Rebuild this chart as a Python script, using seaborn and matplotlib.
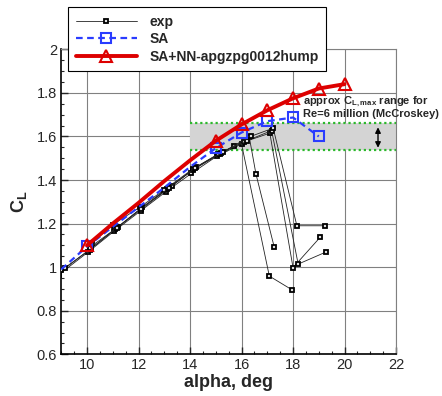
import numpy as np
import pandas as pd
import matplotlib
matplotlib.use("Agg")
import matplotlib.pyplot as plt
from matplotlib.lines import Line2D
from matplotlib.ticker import MultipleLocator
import seaborn as sns

# experimental runs (alpha, CL)
exp1_alpha = [8.9, 10.05, 11.05, 12.1, 13.05, 14.05, 15.05, 16.0, 17.08, 17.96]
exp1_cl = [0.965, 1.07, 1.165, 1.26, 1.345, 1.43, 1.51, 1.565, 0.959, 0.896]
exp2_alpha = [9.0, 10.1, 11.1, 12.1, 13.1, 14.1, 15.15, 15.7, 16.3, 16.56, 17.27]
exp2_cl = [0.985, 1.08, 1.175, 1.27, 1.36, 1.445, 1.52, 1.556, 1.598, 1.428, 1.092]
exp3_alpha = [9.15, 10.15, 11.2, 12.15, 13.3, 14.25, 15.2, 16.1, 17.1, 18.0, 19.06]
exp3_cl = [0.995, 1.085, 1.185, 1.275, 1.373, 1.46, 1.525, 1.575, 1.615, 0.998, 1.138]
exp4_alpha = [10.2, 11.0, 12.05, 13.0, 14.1, 15.1, 16.2, 17.17, 18.2, 19.27]
exp4_cl = [1.11, 1.195, 1.275, 1.355, 1.45, 1.52, 1.58, 1.627, 1.014, 1.069]
exp5_alpha = [10.1, 11.15, 12.1, 13.2, 14.2, 15.3, 16.35, 17.23, 18.15, 19.23]
exp5_cl = [1.09, 1.18, 1.265, 1.365, 1.455, 1.53, 1.60, 1.638, 1.19, 1.19]

# SA
sa_alpha = [9, 10, 11, 12, 13, 14, 15, 16, 17, 18, 19]
sa_cl = [0.99, 1.095, 1.185, 1.275, 1.365, 1.46, 1.546, 1.618, 1.67, 1.687, 1.60]
sa_marks = [1, 6, 7, 8, 9, 10]

# SA+NN
nn_alpha = [10, 11, 12, 13, 14, 15, 16, 17, 18, 19, 20]
nn_cl = [1.10, 1.20, 1.295, 1.395, 1.49, 1.58, 1.655, 1.72, 1.775, 1.82, 1.84]
nn_marks = [0, 5, 6, 7, 8, 9, 10]

# McCroskey CLmax band
band_lo, band_hi = 1.54, 1.66

yticks = [0.6, 0.8, 1.0, 1.2, 1.4, 1.6, 1.8, 2.0]
ytick_labels = ["0.6", "0.8", "1", "1.2", "1.4", "1.6", "1.8", "2"]

sns.set_style("ticks")
plt.rcParams["font.family"] = ["Liberation Sans", "DejaVu Sans"]
plt.rcParams["mathtext.fontset"] = "custom"
plt.rcParams["mathtext.rm"] = "Liberation Sans:bold"
plt.rcParams["mathtext.default"] = "rm"

fig = plt.figure(figsize=(4.42, 3.96), dpi=100)
ax = fig.add_axes([0.1386, 0.1053, 0.7574, 0.7702])

# gray band and green dotted limits
ax.fill_between([14, 22], band_lo, band_hi, color="#d4d4d4", zorder=1, lw=0)
for yy in (band_lo, band_hi):
    ax.plot([14, 22], [yy, yy], color="#2db82d", ls=(0, (1, 1.3)), lw=1.6, zorder=2)

exp_runs = [(exp1_alpha, exp1_cl), (exp2_alpha, exp2_cl), (exp3_alpha, exp3_cl),
            (exp4_alpha, exp4_cl), (exp5_alpha, exp5_cl)]
rows = []
for i, (a, c) in enumerate(exp_runs):
    for aa, cc in zip(a, c):
        rows.append({"run": i, "alpha": aa, "cl": cc})
exp_df = pd.DataFrame(rows)

sns.lineplot(data=exp_df, x="alpha", y="cl", units="run", estimator=None, sort=False,
             color="#222222", lw=0.6, marker="s", ms=3.4, mfc="#dddddd", mec="black", mew=1.3,
             ax=ax, legend=False, zorder=3)

sa_df = pd.DataFrame({"alpha": sa_alpha, "cl": sa_cl})
sns.lineplot(data=sa_df, x="alpha", y="cl", sort=False, color="#2a3cff", lw=1.6,
             ls=(0, (3, 2)), marker="s", ms=7, mfc="none", mec="#2a3cff", mew=1.5,
             markevery=sa_marks, ax=ax, legend=False, zorder=4)

nn_df = pd.DataFrame({"alpha": nn_alpha, "cl": nn_cl})
sns.lineplot(data=nn_df, x="alpha", y="cl", sort=False, color="#dd0000", lw=2.8,
             marker="^", ms=9, mfc="none", mec="#dd0000", mew=1.5,
             markevery=nn_marks, ax=ax, legend=False, zorder=5)

# double arrow + note
ax.annotate("", xy=(21.3, 1.548), xytext=(21.3, 1.642),
            arrowprops=dict(arrowstyle="<|-|>", color="black", lw=1.0,
                            mutation_scale=8, shrinkA=0, shrinkB=0), zorder=6)
ax.text(18.4, 1.795, "approx C$_{L,max}$ range for\nRe=6 million (McCroskey)",
        fontsize=8, fontweight="bold", va="top", ha="left", linespacing=1.0,
        clip_on=False, zorder=6)

ax.set_xlim(9, 22)
ax.set_ylim(0.6, 2.0)
ax.xaxis.set_major_locator(MultipleLocator(2))
ax.xaxis.set_minor_locator(MultipleLocator(0.5))
ax.yaxis.set_minor_locator(MultipleLocator(0.05))
ax.set_yticks(yticks)
ax.set_yticklabels(ytick_labels)
ax.grid(True, which="major", color="#808080", lw=0.8)
ax.set_axisbelow(True)
ax.tick_params(which="major", direction="in", length=5, width=1, labelsize=10.5,
               top=False, right=False, pad=3)
ax.tick_params(which="minor", direction="in", length=2.5, width=0.8, top=False, right=False)
for s in ["left", "bottom"]:
    ax.spines[s].set_color("black")
    ax.spines[s].set_linewidth(1.2)
for s in ["top", "right"]:
    ax.spines[s].set_color("#808080")
    ax.spines[s].set_linewidth(0.8)

ax.set_xlabel("alpha, deg", fontsize=13, fontweight="bold", labelpad=1)
ax.set_ylabel("C$_L$", fontsize=13, fontweight="bold")
ax.yaxis.set_label_coords(-0.095, 0.5)

handles = [
    Line2D([], [], color="#222222", lw=0.6, marker="s", ms=3.4, mfc="#dddddd", mec="black", mew=1.3),
    Line2D([], [], color="#2a3cff", lw=1.6, ls=(0, (3, 2)), marker="s", ms=7, mfc="none",
           mec="#2a3cff", mew=1.5),
    Line2D([], [], color="#dd0000", lw=2.8, marker="^", ms=9, mfc="none", mec="#dd0000", mew=1.5),
]
labels = ["exp", "SA", "SA+NN-apgzpg0012hump"]
leg = fig.legend(handles, labels, loc="upper left", bbox_to_anchor=(0.154, 0.982),
                 borderaxespad=0, frameon=True, fancybox=False, edgecolor="black",
                 framealpha=1, handlelength=4.4, handletextpad=0.9, labelspacing=0.25,
                 borderpad=0.55, prop={"weight": "bold", "size": 10})
leg.get_frame().set_linewidth(0.8)

fig.savefig("out.png", dpi=100)
